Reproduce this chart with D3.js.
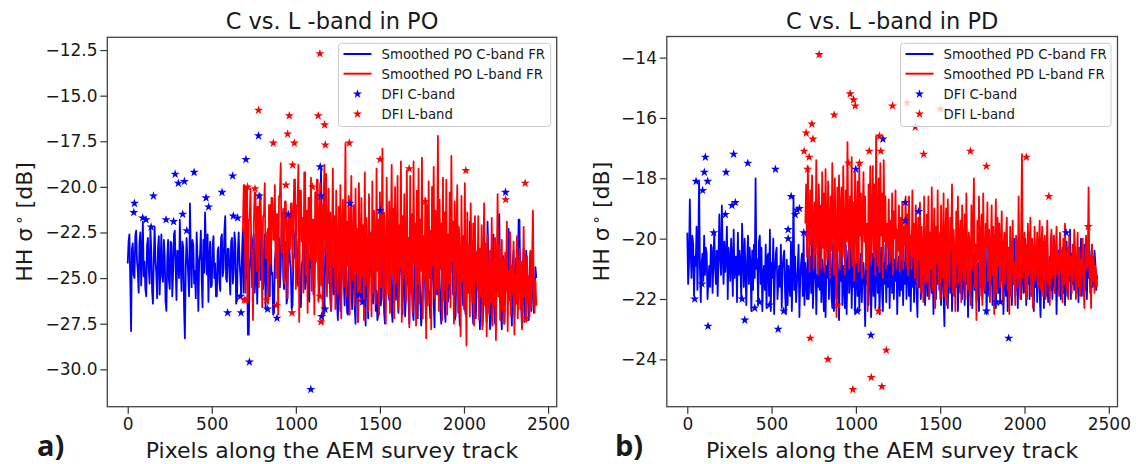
<!DOCTYPE html>
<html>
<head>
<meta charset="utf-8">
<script src="https://cdn.jsdelivr.net/npm/d3@7"></script>
<style>
body { margin: 0; background: #fff; }
svg { display: block; }
text { font-family: "DejaVu Sans", sans-serif; fill: #1a1a1a; }
</style>
</head>
<body>
<div id="chart"></div>
<script>
// x ticks shared by both panels
var xTicks = [0, 500, 1000, 1500, 2000, 2500];
var yTicksPO = [-30, -27.5, -25, -22.5, -20, -17.5, -15, -12.5];
var yTicksPD = [-24, -22, -20, -18, -16, -14];

// smoothed backscatter, one value every 5 pixels along the track
var step = 5;
var poCstart = 0;
var poCband = [
  -24.2,-23.0,-22.6,-25.1,-27.9,-23.4,-23.1,-24.8,-25.0,-22.7,-22.4,-24.0,-24.6,-25.8,-23.0,-22.5,-25.4,-23.7,-21.9,-24.9,
  -24.1,-25.6,-26.0,-23.2,-22.8,-24.5,-25.3,-22.3,-23.5,-25.7,-26.4,-23.9,-22.2,-24.0,-24.8,-26.1,-23.4,-22.7,-25.9,-24.3,
  -22.6,-24.9,-25.2,-22.9,-23.8,-26.3,-26.8,-24.0,-22.9,-25.1,-25.6,-23.0,-23.1,-26.0,-24.7,-22.6,-22.4,-24.4,-26.2,-23.5,
  -23.6,-25.0,-21.8,-24.2,-25.7,-23.0,-23.3,-26.6,-28.3,-24.4,-22.8,-23.9,-24.9,-26.0,-20.9,-23.6,-25.5,-22.9,-23.2,-25.3,
  -24.6,-26.1,-22.5,-23.9,-26.8,-24.1,-23.7,-22.4,-25.1,-26.6,-22.9,-24.7,-21.4,-23.3,-24.8,-22.6,-26.3,-24.0,-23.0,-25.5,
  -25.4,-23.2,-22.7,-25.0,-24.2,-26.0,-26.0,-23.5,-23.3,-25.2,-25.7,-22.8,-22.6,-24.9,-24.5,-22.4,-21.6,-25.0,-25.2,-23.4,
  -23.4,-24.7,-25.9,-23.0,-22.8,-25.3,-24.6,-22.5,-23.1,-26.4,-26.2,-23.6,-22.5,-24.1,-24.9,-26.0,-23.6,-22.3,-25.8,-24.2,
  -22.4,-25.0,-24.3,-28.1,-28.1,-24.6,-23.7,-22.6,-25.5,-23.1,-22.6,-25.8,-24.8,-23.0,-26.4,-24.4,-23.2,-22.0,-25.1,-24.7,
  -22.9,-25.6,-24.6,-22.6,-26.7,-24.2,-23.4,-22.3,-25.3,-26.0,-22.2,-24.8,-24.7,-27.0,-26.9,-24.0,-23.6,-22.5,-25.0,-23.2,
  -22.8,-25.5,-24.4,-22.1,-21.4,-24.9,-25.6,-23.0,-23.3,-26.4,-26.1,-23.4,-22.9,-24.1,-24.5,-26.7,-26.5,-24.0,-23.8,-22.6,
  -22.2,-24.8,-25.4,-22.9,-23.5,-26.2,-26.6,-24.3,-24.0,-22.5,-22.7,-25.6,-25.2,-22.8,-23.1,-26.1,-26.3,-23.7,-24.4,-22.4,
  -22.5,-25.9,-25.5,-23.1,-23.9,-21.3,-21.3,-25.0,-25.8,-20.8,-19.0,-23.6,-24.2,-27.0,-26.9,-23.4,-22.6,-24.8,-25.3,-23.0,
  -24.0,-26.2,-26.8,-24.4,-23.5,-25.9,-25.6,-22.8,-22.9,-26.4,-27.3,-24.6,-24.1,-26.8,-25.9,-23.3,-23.2,-25.2,-26.5,-24.0,
  -24.6,-26.9,-27.0,-24.5,-23.8,-22.9,-25.4,-26.7,-22.8,-24.6,-26.6,-27.5,-24.3,-23.6,-27.4,-25.1,-23.6,-24.8,-25.8,-26.4,
  -24.4,-23.2,-26.2,-27.6,-23.1,-24.5,-27.2,-25.0,-24.8,-22.6,-22.5,-25.9,-26.4,-24.0,-23.9,-26.8,-25.7,-27.3,-27.0,-24.5,
  -24.1,-26.5,-26.0,-23.6,-23.4,-26.9,-27.5,-25.0,-24.6,-22.7,-25.3,-26.2,-22.9,-24.8,-26.7,-27.4,-24.0,-23.3,-25.9,-26.2,
  -23.5,-25.6,-26.9,-24.9,-24.3,-22.4,-25.6,-27.0,-22.8,-24.6,-27.1,-25.8,-24.5,-23.1,-26.2,-27.5,-23.7,-24.3,-25.4,-26.8,
  -27.3,-25.0,-24.0,-22.8,-26.5,-27.2,-23.2,-24.9,-25.8,-27.6,-27.0,-24.8,-24.4,-23.0,-26.1,-27.4,-23.9,-24.5,-25.5,-26.3,
  -27.2,-25.4,-24.2,-23.1,-26.4,-27.7,-23.6,-24.4,-25.9,-22.6,-22.9,-25.1,-26.8,-27.5,-24.5,-23.3,-25.3,-26.6,-27.4,-24.2,
  -23.8,-26.3,-26.0,-23.5,-24.7,-22.6,-22.6,-25.9,-25.6,-27.3,-27.1,-24.4,-24.0,-23.2,-26.3,-27.6,-23.4,-24.9,-25.8,-26.5,
  -24.6,-26.6,-27.0,-24.2,-23.9,-25.8,-25.5,-21.9,-22.1,-25.0,-26.4,-27.5,-24.3,-23.4,-27.2,-25.9,-23.5,-24.6,-25.9,-27.8,
  -24.8,-23.5,-27.6,-26.8,-23.2,-24.9,-26.1,-27.4,-21.9,-23.7,-25.4,-27.8,-27.3,-24.5,-24.1,-22.6,-26.6,-27.5,-23.8,-25.0,
  -25.7,-22.6,-21.5,-25.3,-26.9,-27.8,-24.4,-23.8,-27.5,-25.9,-23.6,-24.7,-25.8,-22.3,-22.9,-26.0,-26.7,-27.6,-24.2,-23.5,
  -27.1,-25.4,-23.9,-24.8,-25.2,-21.8,-21.8,-25.6,-26.5,-27.7,-24.6,-23.4,-27.4,-25.9,-23.5,-24.9,-25.9,-27.3,-24.8,-23.6,
  -26.8,-25.2,-24.1,-26.9,-26.2,-24.4,-25.0
];
var poLstart = 680;
var poLband = [
  -22.4,-22.4,-19.9,-19.9,-25.8,-20.0,-20.0,-26.3,-21.8,-21.8,-20.1,-23.5,-23.5,-27.3,-22.0,-20.3,-20.3,-24.6,-21.1,-21.1,
  -25.5,-20.4,-20.4,-22.7,-26.6,-21.6,-21.6,-19.8,-23.9,-23.9,-22.5,-26.4,-21.0,-21.0,-24.2,-20.6,-20.6,-22.9,-22.9,-19.9,
  -25.0,-21.5,-21.5,-27.0,-20.5,-20.5,-18.7,-23.6,-23.6,-21.2,-25.3,-20.8,-20.8,-22.4,-26.1,-21.6,-21.6,-23.4,-20.9,-20.9,
  -24.5,-22.0,-19.6,-19.6,-25.6,-21.0,-21.0,-18.8,-27.4,-20.2,-20.2,-23.0,-21.7,-25.8,-19.2,-19.2,-24.8,-21.3,-26.9,-20.6,
  -20.6,-23.9,-19.5,-25.7,-21.8,-21.8,-27.0,-20.3,-24.1,-19.6,-19.6,-26.3,-22.2,-19.8,-25.4,-21.0,-27.5,-20.7,-18.8,-23.6,
  -19.3,-26.0,-22.5,-20.1,-25.2,-21.4,-26.8,-23.0,-19.0,-24.4,-21.6,-26.7,-20.2,-23.8,-25.9,-21.1,-24.6,-19.9,-27.2,-22.4,
  -20.7,-25.5,-23.1,-17.6,-26.0,-21.9,-24.3,-20.5,-27.0,-22.8,-19.4,-25.1,-23.6,-21.0,-26.5,-20.1,-24.7,-22.3,-27.4,-19.8,
  -23.5,-26.2,-20.6,-24.9,-22.1,-27.3,-19.2,-25.4,-21.7,-23.9,-26.8,-20.4,-24.0,-22.6,-27.1,-19.7,-25.8,-21.3,-23.4,-26.4,
  -19.0,-24.6,-21.8,-27.0,-20.3,-25.5,-22.9,-17.9,-26.2,-21.4,-24.1,-27.5,-19.5,-23.3,-25.9,-20.8,-26.9,-22.5,-18.8,-24.8,
  -21.2,-27.2,-20.0,-25.3,-23.0,-19.4,-26.7,-22.1,-24.5,-18.6,-27.4,-21.6,-25.0,-20.4,-23.7,-26.3,-19.1,-24.9,-22.8,-27.7,
  -19.4,-25.8,-21.5,-26.9,-18.6,-24.2,-22.0,-27.6,-20.2,-25.3,-19.0,-26.4,-21.8,-24.6,-18.4,-27.2,-22.7,-25.1,-20.6,-28.3,
  -21.0,-26.5,-19.7,-25.0,-22.4,-27.8,-20.0,-24.3,-18.9,-26.1,-21.3,-25.6,-23.1,-17.2,-26.8,-20.7,-24.5,-22.0,-27.3,-19.5,
  -26.2,-21.4,-24.8,-19.6,-27.0,-22.6,-25.3,-20.3,-26.6,-18.3,-24.1,-21.9,-27.5,-20.8,-25.7,-23.0,-19.9,-26.9,-22.2,-24.4,
  -28.2,-20.5,-25.1,-22.7,-26.7,-19.8,-24.9,-28.7,-21.4,-25.8,-23.2,-27.1,-20.9,-24.5,-26.3,-22.0,-27.6,-21.6,-25.2,-23.6,
  -25.6,-21.6,-27.3,-23.4,-26.0,-22.1,-27.8,-24.2,-20.9,-26.5,-23.1,-28.2,-22.6,-25.8,-27.0,-23.5,-26.3,-21.7,-27.6,-24.0,
  -26.6,-22.8,-28.4,-24.5,-20.4,-26.0,-23.2,-27.3,-25.1,-22.9,-26.8,-24.0,-27.5,-23.6,-25.7,-21.9,-27.9,-24.6,-26.2,-22.5,
  -27.0,-24.3,-25.9,-23.0,-28.1,-24.8,-26.4,-22.7,-27.2,-25.0,-23.4,-26.7,-24.1,-27.8,-25.5,-22.2,-26.0,-24.7,-27.4,-23.8,
  -26.3,-24.9,-27.1,-23.5,-26.6,-24.2,-21.3,-25.8,-26.9,-25.1,-26.5
];
var pdCstart = 0;
var pdCband = [
  -19.8,-21.5,-20.9,-18.7,-20.4,-21.3,-19.9,-20.2,-21.9,-20.6,-20.9,-19.6,-21.7,-20.3,-18.1,-21.0,-22.1,-20.8,-20.5,-21.4,
  -19.9,-21.2,-20.3,-20.5,-22.0,-21.4,-20.9,-21.6,-20.2,-20.3,-21.8,-20.7,-19.8,-21.0,-21.5,-20.4,-21.9,-20.6,-19.2,-20.7,
  -21.2,-18.9,-20.5,-21.5,-20.1,-21.1,-20.6,-19.6,-22.0,-20.3,-20.8,-21.4,-20.0,-20.7,-21.9,-19.7,-21.3,-20.6,-20.6,-22.1,
  -19.8,-21.2,-20.4,-20.9,-22.0,-19.5,-20.6,-21.6,-20.0,-21.1,-22.2,-20.7,-19.9,-21.5,-20.3,-20.9,-22.4,-20.4,-21.7,-20.2,
  -21.3,-18.0,-21.0,-20.7,-22.2,-20.1,-19.9,-21.5,-20.3,-22.4,-21.2,-20.9,-21.7,-20.2,-22.3,-20.6,-20.5,-21.9,-19.7,-22.4,
  -20.8,-21.3,-20.0,-22.5,-21.1,-20.5,-20.3,-22.0,-21.4,-20.9,-21.6,-20.2,-22.3,-21.0,-20.6,-20.4,-21.8,-22.5,-20.7,-22.2,
  -20.9,-21.5,-21.9,-20.1,-22.4,-21.0,-18.6,-21.7,-20.6,-22.1,-21.5,-21.0,-20.2,-22.6,-21.3,-20.8,-20.5,-21.9,-19.9,-22.2,
  -20.8,-21.4,-22.0,-20.3,-22.0,-21.1,-20.6,-21.8,-19.6,-22.3,-21.4,-21.0,-20.4,-22.5,-21.2,-21.6,-20.0,-21.7,-19.4,-22.1,
  -20.7,-21.5,-22.4,-20.2,-22.6,-20.9,-21.3,-19.8,-22.0,-21.0,-20.5,-21.9,-22.3,-20.1,-22.4,-21.1,-20.6,-22.0,-20.3,-21.6,
  -22.7,-20.8,-21.4,-19.7,-22.2,-20.9,-21.5,-22.3,-20.2,-22.5,-21.0,-20.4,-21.8,-21.2,-20.3,-22.3,-20.9,-21.6,-20.1,-22.5,
  -21.2,-20.6,-21.9,-20.0,-22.4,-21.3,-20.5,-22.1,-21.0,-20.8,-21.7,-22.9,-20.4,-21.5,-20.7,-22.2,-21.0,-20.2,-22.6,-21.4,
  -20.5,-21.9,-20.1,-22.3,-21.1,-19.6,-21.8,-20.6,-22.5,-21.2,-20.3,-21.7,-22.4,-20.8,-21.5,-20.2,-22.1,-20.9,-21.6,-19.9,
  -22.3,-21.0,-20.4,-21.8,-19.5,-22.0,-20.7,-21.4,-20.1,-22.5,-21.2,-20.6,-21.9,-20.3,-21.7,-20.0,-22.2,-20.8,-21.5,-19.8,
  -22.0,-21.1,-20.5,-21.9,-20.2,-22.4,-20.9,-21.6,-20.3,-22.1,-21.0,-20.6,-21.8,-22.6,-20.4,-21.6,-19.9,-22.0,-21.0,-20.3,
  -21.8,-20.7,-22.2,-21.3,-20.1,-21.9,-19.9,-22.0,-21.2,-20.5,-21.8,-20.8,-22.5,-21.1,-20.6,-22.0,-20.3,-21.5,-20.9,-21.7,
  -19.8,-22.2,-21.0,-20.4,-21.9,-22.9,-20.6,-21.5,-20.1,-22.3,-21.2,-20.7,-21.8,-20.0,-22.4,-21.4,-20.6,-21.9,-20.2,-21.6,
  -20.4,-22.4,-21.1,-20.5,-21.8,-20.9,-22.0,-21.3,-19.7,-22.2,-20.8,-21.5,-20.3,-22.6,-21.2,-20.6,-21.9,-20.1,-22.3,-21.0,
  -20.5,-21.7,-20.2,-22.1,-21.4,-20.8,-22.4,-19.9,-21.6,-20.7,-22.0,-21.1,-20.4,-21.8,-20.2,-22.5,-21.3,-20.6,-21.9,-20.9,
  -21.5,-20.3,-22.2,-20.9,-21.6,-19.9,-22.3,-21.1,-20.4,-21.8,-19.5,-22.0,-20.7,-21.4,-20.1,-22.5,-21.2,-20.6,-21.9,-20.3,
  -22.4,-21.0,-20.5,-21.8,-20.2,-22.2,-20.9,-21.5,-20.0,-21.9,-21.2,-20.6,-22.3,-20.8,-21.6,-20.3,-22.0,-21.1,-20.7,-21.8,
  -21.7,-20.0,-22.2,-20.8,-21.5,-19.8,-22.0,-21.1,-20.5,-21.9,-20.2,-22.4,-20.9,-21.6,-20.3,-22.1,-21.0,-20.6,-21.8,-22.6,
  -20.7,-21.4,-20.1,-22.3,-21.0,-20.5,-21.9,-20.2,-22.1,-21.3,-20.6,-21.7,-19.9,-22.0,-21.2,-20.4,-21.8,-20.8,-22.5,-21.1,
  -20.4,-21.6,-19.9,-22.0,-21.0,-20.3,-21.8,-20.7,-22.2,-21.3,-20.1,-21.9,-20.6,-21.4,-19.7,-22.0,-20.5,-21.5,-20.9,-21.7,
  -20.3,-21.8,-20.6,-21.2,-22.1,-20.5,-21.4,-20.0,-21.9,-20.8,-21.5,-20.2,-21.7,-20.9,-22.0,-20.6,-21.3,-20.4,-21.8,-21.0,
  -20.2,-21.6,-21.3,-20.4,-20.8,-21.7,-21.2
];
var pdLstart = 700;
var pdLband = [
  -19.5,-18.2,-20.6,-17.6,-19.3,-21.1,-18.4,-20.2,-17.9,-19.6,-21.0,-18.8,-20.5,-17.4,-19.9,-21.2,-18.2,-20.0,-18.9,-21.0,
  -17.8,-20.3,-18.5,-21.1,-17.7,-19.8,-20.7,-18.1,-19.5,-21.3,-18.6,-20.4,-17.5,-19.4,-21.2,-18.0,-20.0,-22.6,-18.3,-20.4,
  -17.9,-21.0,-19.0,-18.3,-20.6,-17.6,-19.9,-21.2,-18.4,-20.1,-16.8,-19.7,-21.0,-18.6,-20.3,-17.3,-20.9,-18.8,-21.4,-17.8,
  -19.4,-20.8,-18.1,-21.1,-17.5,-19.9,-18.5,-21.3,-19.2,-17.8,-20.1,-18.6,-21.0,-19.5,-22.4,-18.2,-20.3,-17.6,-20.8,-19.4,
  -17.6,-20.6,-18.2,-21.2,-16.6,-19.8,-20.9,-18.0,-21.1,-17.5,-19.9,-18.5,-21.3,-17.4,-20.1,-18.6,-21.0,-19.5,-20.3,-18.7,
  -20.8,-19.4,-20.6,-18.5,-21.2,-19.1,-20.0,-18.4,-21.0,-19.7,-20.4,-18.9,-21.1,-19.3,-20.7,-18.8,-21.0,-19.6,-20.2,-18.6,
  -20.9,-19.2,-21.2,-18.6,-20.4,-19.9,-21.0,-18.4,-20.6,-19.5,-21.3,-18.9,-20.1,-21.6,-19.3,-20.7,-18.8,-21.8,-19.6,-20.5,
  -22.1,-18.6,-20.9,-21.5,-19.2,-21.4,-18.6,-22.0,-19.8,-21.0,-18.3,-21.7,-20.2,-19.0,-22.3,-19.6,-20.8,-18.4,-21.5,-19.9,
  -22.0,-18.9,-20.6,-21.3,-18.5,-21.9,-20.1,-19.0,-22.2,-18.7,-20.9,-21.6,-19.3,-20.4,-18.2,-21.8,-19.7,-20.6,-22.4,-19.1,
  -20.8,-18.6,-21.5,-20.0,-19.4,-22.1,-18.9,-20.7,-21.4,-19.2,-22.0,-18.5,-20.5,-21.7,-19.8,-20.3,-22.2,-18.9,-21.0,-19.6,
  -18.0,-21.6,-20.2,-22.7,-19.4,-20.7,-18.6,-21.9,-20.0,-19.2,-22.2,-18.5,-20.9,-21.7,-19.5,-20.3,-18.8,-21.4,-19.7,-22.1,
  -20.4,-18.9,-21.2,-19.6,-22.5,-20.6,-18.7,-21.8,-19.3,-20.9,-19.5,-21.6,-20.2,-19.1,-22.1,-20.5,-19.8,-21.5,-20.0,-19.3,
  -21.7,-20.3,-22.5,-19.6,-21.9,-20.6,-19.4,-21.5,-20.8,-22.2,-19.9,-20.4,-21.6,-18.6,-20.9,-22.0,-19.7,-17.2,-21.3,-20.5,
  -19.8,-21.8,-20.2,-22.0,-19.5,-21.2,-20.6,-19.3,-21.9,-20.0,-22.3,-20.7,-19.6,-21.4,-20.9,-19.8,-21.6,-20.3,-19.4,-21.7,
  -20.3,-19.6,-21.9,-20.6,-19.9,-22.0,-20.4,-19.4,-21.5,-20.8,-22.2,-20.1,-19.7,-21.3,-20.7,-19.9,-21.8,-20.5,-19.6,-21.2,
  -20.5,-21.9,-19.8,-21.1,-20.4,-22.1,-20.0,-21.5,-19.5,-20.9,-21.7,-20.3,-22.0,-19.9,-21.2,-20.6,-21.8,-20.2,-21.4,-19.7,
  -20.4,-22.0,-20.9,-19.8,-21.6,-20.3,-21.9,-20.7,-21.2,-20.0,-21.5,-22.3,-20.6,-19.9,-21.0,-20.8,-18.3,-21.3,-20.6,-22.3,
  -20.2,-21.4,-20.6,-21.8,-20.9,-21.1,-21.6
];

// DFI points [pixel, dB]
var poDfiC = [[36,-21.4],[40,-20.9],[89,-21.7],[109,-21.8],[139,-22.2],[153,-20.5],[228,-21.8],[273,-21.9],[282,-19.3],
  [301,-19.8],[327,-21.5],[337,-19.7],[351,-22.4],[395,-19.2],[466,-20.6],[481,-21.1],[561,-20.3],[594,-26.9],[624,-19.4],
  [628,-21.6],[654,-21.7],[670,-26.0],[674,-26.9],[703,-18.5],[724,-29.6],[778,-17.2],[782,-20.5],[832,-26.7],[888,-27.2],
  [955,-21.5],[1089,-31.1],[1145,-18.9],[1149,-20.5],[1153,-27.1],[1173,-26.7],[1322,-20.9],[1377,-25.9],[1396,-26.3],
  [1502,-21.3],[2247,-20.3]];
var poDfiL = [[693,-26.2],[703,-26.2],[713,-20.0],[757,-20.1],[778,-15.8],[826,-26.2],[866,-17.6],[885,-26.5],[941,-19.9],
  [951,-17.1],[961,-16.1],[977,-26.9],[981,-18.8],[991,-17.6],[1099,-20.0],[1133,-16.1],[1143,-12.7],[1143,-26.0],
  [1149,-27.4],[1171,-16.6],[1175,-17.7],[1318,-17.6],[1501,-18.5],[1674,-19.0],[1770,-20.8],[2011,-19.1],[2248,-20.7],
  [2364,-19.8],[2367,-27.2]];
var pdDfiC = [[44,-22.0],[52,-18.1],[87,-21.5],[91,-18.4],[101,-17.8],[107,-17.3],[121,-18.1],[123,-22.9],[157,-19.8],
  [226,-19.2],[230,-17.8],[265,-18.9],[275,-17.2],[285,-18.8],[325,-22.0],[341,-22.7],[359,-17.5],[400,-22.3],[428,-22.1],
  [487,-22.2],[523,-17.7],[539,-23.0],[572,-22.4],[598,-19.7],[598,-20.0],[616,-18.6],[640,-19.2],[651,-19.05],[665,-19.0],
  [691,-19.8],[999,-17.7],[1009,-22.4],[1089,-23.2],[1160,-16.7],[1293,-18.8],[1293,-19.4],[1372,-19.1],[1774,-22.4],
  [1833,-22.1],[1857,-22.1],[1906,-23.3],[2247,-19.8]];
var pdDfiL = [[693,-17.1],[705,-16.5],[713,-17.7],[723,-17.3],[729,-23.3],[739,-16.2],[745,-16.7],[782,-13.9],[834,-24.0],
  [871,-15.9],[891,-22.2],[956,-17.5],[966,-15.2],[982,-25.0],[986,-15.4],[996,-15.6],[1021,-17.5],[1079,-17.1],
  [1091,-24.6],[1134,-22.4],[1140,-16.6],[1148,-17.1],[1154,-24.9],[1180,-23.7],[1217,-15.6],[1303,-15.5],[1352,-16.3],
  [1402,-17.2],[1501,-15.7],[1679,-17.1],[1774,-17.6],[2011,-17.3],[2144,-18.6],[2378,-19.6]];

var blue = '#0000ff', red = '#ff0000';
var lineWidth = 1.8;

var svg = d3.select('#chart').append('svg')
  .attr('width', 1136)
  .attr('height', 464);

function toPoints(start, vals) {
  return vals.map(function (v, i) { return [start + i * step, v]; });
}

function drawPanel(p) {
  var x = d3.scaleLinear().domain([-121.5, 2551.5]).range([p.left, p.right]);
  var y = d3.scaleLinear().domain(p.yDomain).range([p.bottom, p.top]);
  var g = svg.append('g');

  g.append('clipPath').attr('id', p.id + '-clip')
    .append('rect')
    .attr('x', p.left).attr('y', p.top)
    .attr('width', p.right - p.left).attr('height', p.bottom - p.top);

  var plot = g.append('g').attr('clip-path', 'url(#' + p.id + '-clip)');
  var line = d3.line().x(function (d) { return x(d[0]); }).y(function (d) { return y(d[1]); });

  plot.append('path').datum(toPoints(p.cStart, p.cband))
    .attr('d', line).attr('fill', 'none').attr('stroke', blue)
    .attr('stroke-width', lineWidth).attr('stroke-linejoin', 'round');
  plot.append('path').datum(toPoints(p.lStart, p.lband))
    .attr('d', line).attr('fill', 'none').attr('stroke', red)
    .attr('stroke-width', lineWidth).attr('stroke-linejoin', 'round');

  var star = d3.symbol().type(d3.symbolStar).size(26);
  plot.selectAll('.dfi-c').data(p.dfiC).enter().append('path')
    .attr('class', 'dfi-c')
    .attr('d', star)
    .attr('transform', function (d) { return 'translate(' + x(d[0]) + ',' + y(d[1]) + ')'; })
    .attr('fill', blue);
  plot.selectAll('.dfi-l').data(p.dfiL).enter().append('path')
    .attr('class', 'dfi-l')
    .attr('d', star)
    .attr('transform', function (d) { return 'translate(' + x(d[0]) + ',' + y(d[1]) + ')'; })
    .attr('fill', red);

  // axes
  var xa = g.append('g').attr('transform', 'translate(0,' + p.bottom + ')')
    .call(d3.axisBottom(x).tickValues(xTicks).tickSize(7).tickPadding(4.2).tickFormat(d3.format('d')));
  var ya = g.append('g').attr('transform', 'translate(' + p.left + ',0)')
    .call(d3.axisLeft(y).tickValues(p.yTicks).tickSize(7).tickPadding(2.8).tickFormat(d3.format(p.yFormat)));
  [xa, ya].forEach(function (a) {
    a.select('.domain').remove();
    a.selectAll('line').attr('stroke', '#333').attr('stroke-width', 1.2);
    a.selectAll('text').attr('font-size', '17px').attr('fill', '#1a1a1a')
      .style('font-family', '"DejaVu Sans", sans-serif');
  });

  g.append('rect')
    .attr('x', p.left).attr('y', p.top)
    .attr('width', p.right - p.left).attr('height', p.bottom - p.top)
    .attr('fill', 'none').attr('stroke', '#444').attr('stroke-width', 1.3);

  // titles and labels
  g.append('text').attr('x', (p.left + p.right) / 2).attr('y', 29.3)
    .attr('text-anchor', 'middle').attr('font-size', '22.5px').text(p.title);
  g.append('text').attr('x', (p.left + p.right) / 2).attr('y', 458)
    .attr('text-anchor', 'middle').attr('font-size', '22px').text('Pixels along the AEM survey track');

  var yl = g.append('text')
    .attr('transform', 'translate(' + p.ylabelX + ',' + (p.top + p.bottom) / 2 + ') rotate(-90)')
    .attr('text-anchor', 'middle').attr('font-size', '22px');
  yl.append('tspan').text('HH σ');
  yl.append('tspan').attr('font-size', '15px').attr('dx', 3).attr('dy', -8).text('∘');
  yl.append('tspan').attr('dy', 8).text(' [dB]');

  g.append('text').attr('x', p.tagX).attr('y', 456)
    .attr('font-size', '29px').attr('font-weight', 'bold')
    .style('font-family', '"Open Sans", sans-serif').text(p.tag);

  // legend
  var lg = g.append('g');
  lg.append('rect')
    .attr('x', p.legend[0]).attr('y', 43.3)
    .attr('width', p.legend[1] - p.legend[0]).attr('height', 83.2)
    .attr('rx', 3)
    .attr('fill', '#fff').attr('fill-opacity', 0.8)
    .attr('stroke', '#cccccc').attr('stroke-width', 1);
  var rows = [
    { kind: 'line', color: blue, text: 'Smoothed ' + p.region + ' C-band FR' },
    { kind: 'line', color: red, text: 'Smoothed ' + p.region + ' L-band FR' },
    { kind: 'star', color: blue, text: 'DFI C-band' },
    { kind: 'star', color: red, text: 'DFI L-band' }
  ];
  var rowY = [54, 73.7, 94, 114];
  var hx = p.legend[0] + 5;
  rows.forEach(function (r, i) {
    if (r.kind === 'line') {
      lg.append('line').attr('x1', hx).attr('x2', hx + 28)
        .attr('y1', rowY[i]).attr('y2', rowY[i])
        .attr('stroke', r.color).attr('stroke-width', 2);
    } else {
      lg.append('path').attr('d', star)
        .attr('transform', 'translate(' + (hx + 14) + ',' + rowY[i] + ')')
        .attr('fill', r.color);
    }
    lg.append('text').attr('x', hx + 38).attr('y', rowY[i] + 4.8)
      .attr('font-size', '13.3px').text(r.text);
  });
}

drawPanel({
  id: 'po', region: 'PO', title: 'C vs. L -band in PO', tag: 'a)', tagX: 37,
  left: 107.3, right: 556.7, top: 37.3, bottom: 406.7,
  yDomain: [-32.05, -11.8], yTicks: yTicksPO, yFormat: '.1f', ylabelX: 32,
  cStart: poCstart, cband: poCband, lStart: poLstart, lband: poLband,
  dfiC: poDfiC, dfiL: poDfiL, legend: [338.5, 550.7]
});
drawPanel({
  id: 'pd', region: 'PD', title: 'C vs. L -band in PD', tag: 'b)', tagX: 615,
  left: 666.8, right: 1117.5, top: 36.5, bottom: 406.7,
  yDomain: [-25.57, -13.3], yTicks: yTicksPD, yFormat: 'd', ylabelX: 609,
  cStart: pdCstart, cband: pdCband, lStart: pdLstart, lband: pdLband,
  dfiC: pdDfiC, dfiL: pdDfiL, legend: [900.5, 1111]
});
</script>
</body>
</html>
